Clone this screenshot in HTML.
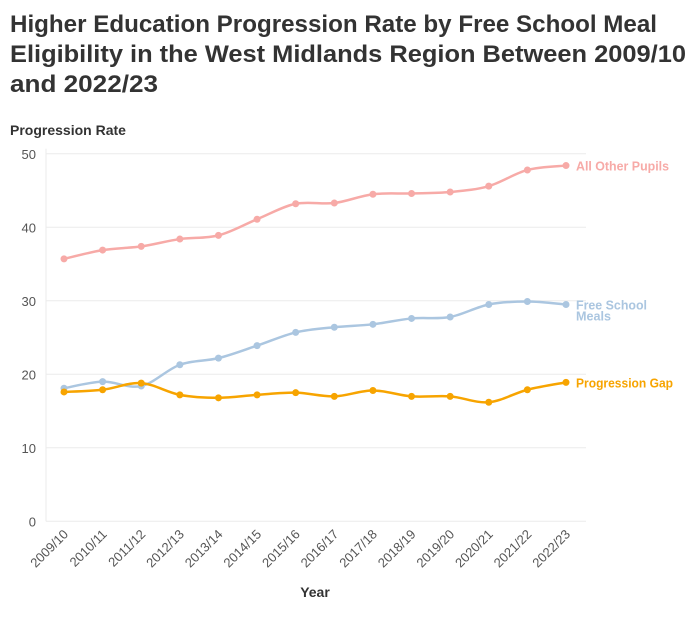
<!DOCTYPE html>
<html><head><meta charset="utf-8"><style>
body{margin:0;background:#fff;}
svg{font-family:"Liberation Sans",sans-serif;display:block}
</style></head><body>
<svg id="chart" width="700" height="618" viewBox="0 0 700 618">
<g font-weight="bold" font-size="24" fill="#333">
<text x="10" y="32" textLength="647" lengthAdjust="spacingAndGlyphs">Higher Education Progression Rate by Free School Meal</text>
<text x="10" y="62" textLength="676" lengthAdjust="spacingAndGlyphs">Eligibility in the West Midlands Region Between 2009/10</text>
<text x="10" y="92" textLength="148" lengthAdjust="spacingAndGlyphs">and 2022/23</text>
</g>
<text x="10" y="135" font-size="14" font-weight="bold" fill="#333">Progression Rate</text>
<text x="315" y="597" font-size="14" font-weight="bold" fill="#333" text-anchor="middle">Year</text>
<g id="grid"></g><g id="axes"></g><g id="series"></g>
</svg>
<script>
const categories=["2009/10","2010/11","2011/12","2012/13","2013/14","2014/15","2015/16","2016/17","2017/18","2018/19","2019/20","2020/21","2021/22","2022/23"];
const allOther=[35.7,36.9,37.4,38.4,38.9,41.1,43.2,43.3,44.5,44.6,44.8,45.6,47.8,48.4];
const fsm=[18.1,19.0,18.4,21.3,22.2,23.9,25.7,26.4,26.8,27.6,27.8,29.5,29.9,29.5];
const gap=[17.6,17.9,18.8,17.2,16.8,17.2,17.5,17.0,17.8,17.0,17.0,16.2,17.9,18.9];
const yTicks=[0,10,20,30,40,50];
const NS="http://www.w3.org/2000/svg";
const x0=64,x1=566,yb=521.3,yt=153.8;
const X=i=>x0+(x1-x0)*i/(categories.length-1);
const Y=v=>yb-(yb-yt)*v/50;
function mk(t,a,p){const e=document.createElementNS(NS,t);for(const k in a)e.setAttribute(k,a[k]);p.appendChild(e);return e;}
const grid=document.getElementById('grid'),axes=document.getElementById('axes'),ser=document.getElementById('series');
yTicks.forEach(v=>{
 const l=mk('line',{x1:46,x2:586,y1:Y(v),y2:Y(v),stroke:'#ebebeb','stroke-width':1},grid);
 
 
 const t=mk('text',{x:36,y:Y(v)+5,'text-anchor':'end','font-size':13,fill:'#555'},axes);
 t.textContent=v;
 
 
});
const ax=mk('line',{x1:46,x2:46,y1:yt-5,y2:yb,stroke:'#ebebeb'},grid);


categories.forEach((c,i)=>{
 const t=mk('text',{x:X(i)+5,y:535,'text-anchor':'end','font-size':13,fill:'#555',transform:`rotate(-45 ${X(i)+5} 535)`},axes);
 t.textContent=c;
 
 
});
function path(vals){
 const p=vals.map((v,i)=>[X(i),Y(v)]);let d=`M${p[0][0]},${p[0][1]}`;
 for(let i=0;i<p.length-1;i++){const a=p[Math.max(0,i-1)],b=p[i],c=p[i+1],e=p[Math.min(p.length-1,i+2)];
  d+=` C${b[0]+(c[0]-a[0])/6},${b[1]+(c[1]-a[1])/6} ${c[0]-(e[0]-b[0])/6},${c[1]-(e[1]-b[1])/6} ${c[0]},${c[1]}`;}
 return d;
}
function series(vals,col,name,labels,lens){
 const g=mk('g',{},ser);
 
 
 mk('path',{d:path(vals),fill:'none',stroke:col,'stroke-width':2.5},g);
 vals.forEach((v,i)=>{const c=mk('circle',{cx:X(i),cy:Y(v),r:3.5,fill:col},g);
  
  });
 const ly=Y(vals[vals.length-1]);
 labels.forEach((s,k)=>{const a={x:576,y:ly+5+k*11,'font-size':13,'font-weight':'bold',fill:col};
  if(lens&&lens[k]){a.textLength=lens[k];a.lengthAdjust='spacingAndGlyphs';}
  const t=mk('text',a,g);
  t.textContent=s;
  
  });
}
series(allOther,'#f7aaa7','all-other-pupils',['All Other Pupils'],[93]);
series(fsm,'#abc6e0','free-school-meals',['Free School','Meals'],[71,35]);
series(gap,'#f7a400','progression-gap',['Progression Gap'],[97]);
</script>
</body></html>
